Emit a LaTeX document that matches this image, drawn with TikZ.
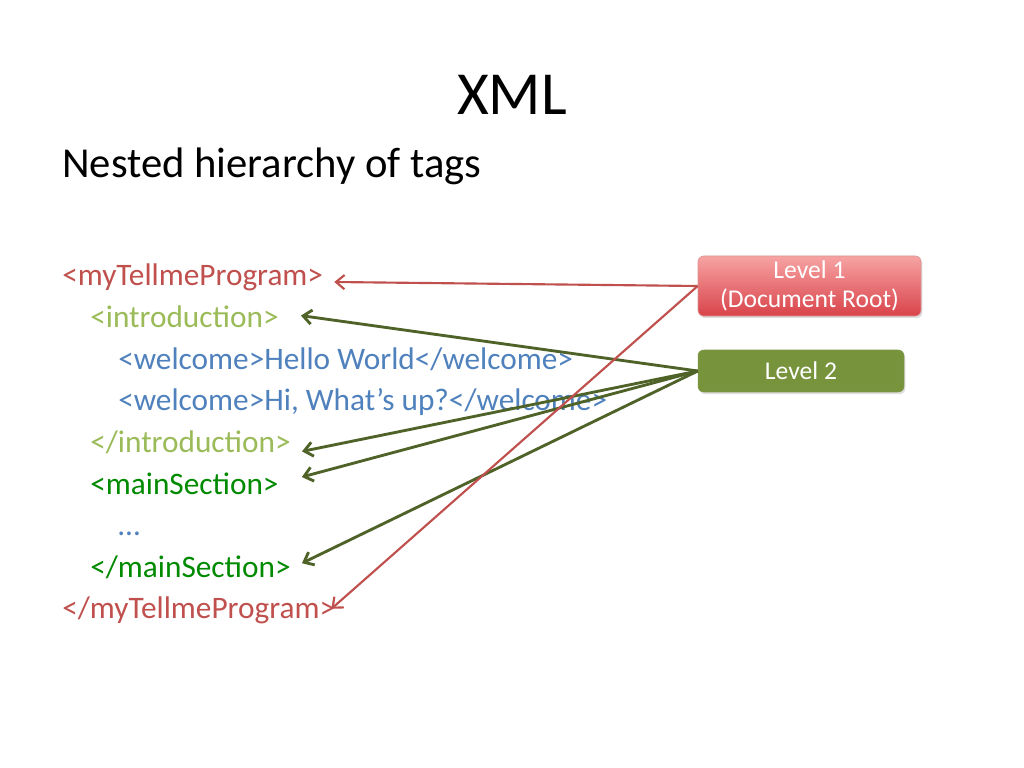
\documentclass[tikz,border=0pt]{standalone}
\usepackage{fontspec}
\setmainfont{Carlito}
\usetikzlibrary{positioning,shadows,arrows.meta}
\definecolor{tagred}{HTML}{C0504D}
\definecolor{taglime}{HTML}{9BBB59}
\definecolor{tagblue}{HTML}{4F81BD}
\definecolor{taggreen}{HTML}{008A00}
\definecolor{arrowgreen}{HTML}{4F6228}
\definecolor{boxgreen}{HTML}{77933C}
\definecolor{boxredtop}{HTML}{F7A3A3}
\definecolor{boxredbottom}{HTML}{D8434A}
\tikzset{
  codeline/.style={anchor=base west, inner sep=0pt, font=\fontsize{22}{26}\selectfont},
  levelbox/.style={rounded corners=4pt, text=white, align=center, font=\fontsize{18}{20}\selectfont,
    drop shadow={opacity=0.25, shadow xshift=1pt, shadow yshift=-1.5pt}},
  redarrow/.style={draw=tagred, line width=1.5pt, -{Straight Barb[length=6pt,width=10pt]}},
  greenarrow/.style={draw=arrowgreen, line width=2pt, -{Straight Barb[length=6pt,width=10pt]}}
}
\begin{document}
\begin{tikzpicture}[x=0.703125pt, y=-0.703125pt]
\useasboundingbox[fill=white] (0,0) rectangle (1024,768);
% headings
\node[anchor=base] (title) at (512,115) {\fontsize{43}{52}\selectfont XML};
\node[anchor=base west, inner sep=0pt] (subtitle) at (62,178) {\fontsize{30}{36}\selectfont Nested hierarchy of tags};
% the xml lines
\node[codeline, text=tagred] (rootopen) at (62,286) {<myTellmeProgram>};
\node[codeline, text=taglime] (introopen) at (90,327.6) {<introduction>};
\node[codeline, text=tagblue] (welcomeone) at (118,369.2) {<welcome>Hello World</welcome>};
\node[codeline, text=tagblue] (welcometwo) at (118,410.8) {<welcome>Hi, What’s up?</welcome>};
\node[codeline, text=taglime] (introclose) at (90,452.4) {</introduction>};
\node[codeline, text=taggreen] (mainopen) at (90,494) {<mainSection>};
\node[codeline, text=tagblue] (dots) at (118,535.6) {…};
\node[codeline, text=taggreen] (mainclose) at (90,577.2) {</mainSection>};
\node[codeline, text=tagred] (rootclose) at (62,618.8) {</myTellmeProgram>};
% level boxes
\node[levelbox, draw=tagred!60, top color=boxredtop, bottom color=boxredbottom, minimum width=156.8pt, minimum height=42.2pt] (levelone) at (809.5,286) {Level 1\\(Document Root)};
\node[levelbox, draw=taglime!80!black, fill=boxgreen, minimum width=144.8pt, minimum height=29.5pt] (leveltwo) at (801,371) {Level 2};
% arrows
\draw[greenarrow] (leveltwo.west) -- ([shift={(22,-12)}]introopen.base east);
\draw[greenarrow] (leveltwo.west) -- ([shift={(11,-1)}]introclose.base east);
\draw[greenarrow] (leveltwo.west) -- ([shift={(23,-17)}]mainopen.base east);
\draw[greenarrow] (leveltwo.west) -- ([shift={(11,-14)}]mainclose.base east);
\draw[redarrow] (levelone.west) -- ([shift={(11,-4)}]rootopen.base east);
\draw[redarrow] (levelone.west) -- ([shift={(-4,-10)}]rootclose.base east);
\end{tikzpicture}
\end{document}
